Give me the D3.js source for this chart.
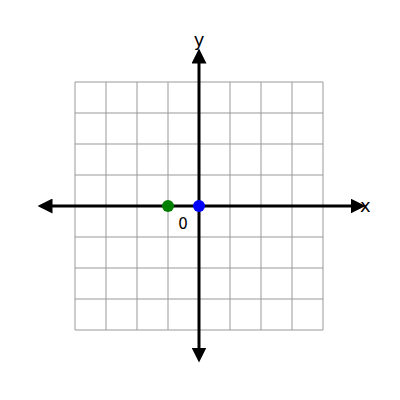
<!DOCTYPE html>
<html><head><meta charset="utf-8">
<script src="https://cdn.jsdelivr.net/npm/d3@7"></script>
<style>body{margin:0;background:#fff}</style>
</head><body>
<div id="chart"></div>
<script>
var gridTicks = [-4, -3, -2, -1, 0, 1, 2, 3, 4];
var points = [{x: -1, y: 0, color: "green"}, {x: 0, y: 0, color: "blue"}];
var axisLabels = ["x", "y"];

var svg = d3.select("#chart").append("svg").attr("width", 400).attr("height", 400);
var x = d3.scaleLinear().domain([-4, 4]).range([75, 323]);
var y = d3.scaleLinear().domain([-4, 4]).range([330, 82]);

svg.append("g").selectAll("line.v").data(gridTicks).enter().append("line")
    .attr("x1", function(d){return x(d);}).attr("x2", function(d){return x(d);})
    .attr("y1", y(4)).attr("y2", y(-4))
    .attr("stroke", "#999").attr("stroke-width", 1);
svg.append("g").selectAll("line.h").data(gridTicks).enter().append("line")
    .attr("y1", function(d){return y(d);}).attr("y2", function(d){return y(d);})
    .attr("x1", x(-4)).attr("x2", x(4))
    .attr("stroke", "#999").attr("stroke-width", 1);

var defs = svg.append("defs");
defs.append("marker").attr("id", "arr").attr("viewBox", "0 0 10 10")
    .attr("refX", 5).attr("refY", 5).attr("markerWidth", 5).attr("markerHeight", 5)
    .attr("orient", "auto-start-reverse").attr("markerUnits", "strokeWidth")
    .append("path").attr("d", "M0,0L10,5L0,10z").attr("fill", "#000");

svg.append("line").attr("x1", 45).attr("x2", 358).attr("y1", y(0)).attr("y2", y(0))
    .attr("stroke", "#000").attr("stroke-width", 3)
    .attr("marker-start", "url(#arr)").attr("marker-end", "url(#arr)");
svg.append("line").attr("x1", x(0)).attr("x2", x(0)).attr("y1", 56).attr("y2", 355)
    .attr("stroke", "#000").attr("stroke-width", 3)
    .attr("marker-start", "url(#arr)").attr("marker-end", "url(#arr)");

svg.append("text").attr("x", 360).attr("y", y(0) + 6).text(axisLabels[0])
    .attr("font-family", "DejaVu Sans").attr("font-size", 18);
svg.append("text").attr("x", x(0)).attr("y", 46).attr("text-anchor", "middle").text(axisLabels[1])
    .attr("font-family", "DejaVu Sans").attr("font-size", 18);
svg.append("text").attr("x", 183).attr("y", 229).attr("text-anchor", "middle").text("0")
    .attr("font-family", "DejaVu Sans").attr("font-size", 15);

svg.selectAll("circle").data(points).enter().append("circle")
    .attr("cx", function(d){return x(d.x);}).attr("cy", function(d){return y(d.y);})
    .attr("r", 6).attr("fill", function(d){return d.color;});
</script>
</body></html>
